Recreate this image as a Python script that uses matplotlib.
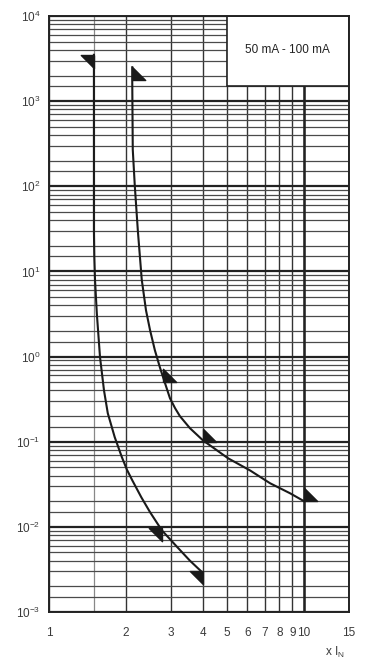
import numpy as np
import matplotlib
matplotlib.use("Agg")
import matplotlib.pyplot as plt
from matplotlib.patches import Rectangle

plt.rcParams['font.family'] = ['Liberation Sans', 'DejaVu Sans']
plt.rcParams['mathtext.default'] = 'regular'

## tripping curve 1 (lower), multiples of I_N vs time in s
curve1_x = [1.5, 1.5, 1.5, 1.5, 1.505, 1.515, 1.54, 1.585, 1.643, 1.70, 1.81, 1.93, 2.02,
            2.12, 2.30, 2.49, 2.77, 3.18, 3.57, 4.0]
curve1_t = [3500, 1000, 100, 30, 15, 7.9, 3.2, 0.98, 0.40, 0.216, 0.113, 0.066, 0.047,
            0.0353, 0.0223, 0.01486, 0.0091, 0.0058, 0.0040, 0.0029]

## tripping curve 2 (upper)
curve2_x = [2.12, 2.12, 2.13, 2.17, 2.23, 2.31, 2.40, 2.49, 2.60, 2.72, 2.85, 2.98, 3.12,
            3.26, 3.57, 4.01, 4.56, 5.03, 6.14, 7.36, 8.81, 10.0]
curve2_t = [2500, 1770, 270, 100, 30, 8.0, 3.5, 2.04, 1.19, 0.75, 0.487, 0.324, 0.248,
            0.1995, 0.144, 0.104, 0.079, 0.064, 0.046, 0.0325, 0.0248, 0.02]

## arrow heads on the curves
arrows1_x = [1.5, 2.77, 4.0]
arrows1_t = [3500, 0.0096, 0.003]
arrows2_x = [2.12, 2.80, 4.0, 10.0]
arrows2_t = [1770, 0.50, 0.1, 0.02]

xticks = [1, 2, 3, 4, 5, 6, 7, 8, 9, 10, 15]
yticks = [1e-3, 1e-2, 1e-1, 1e0, 1e1, 1e2, 1e3, 1e4]
ylabels = ['$10^{-3}$', '$10^{-2}$', '$10^{-1}$', '$10^{0}$', '$10^{1}$',
           '$10^{2}$', '$10^{3}$', '$10^{4}$']
range_label = "50 mA - 100 mA"

fig = plt.figure(figsize=(3.85, 6.68), dpi=100)
ax = fig.add_axes([49/385, 1-612/668, 300/385, 596/668])
ax.set_xscale('log')
ax.set_yscale('log')
ax.set_xlim(1, 15)
ax.set_ylim(1e-3, 1e4)

ax.set_xticks(xticks)
ax.set_xticklabels([str(v) for v in xticks])
ax.set_xticks([1.5], minor=True)
ax.set_yticks(yticks)
ax.set_yticklabels(ylabels)
yminor = [m * 10.0**k for k in range(-3, 4) for m in [1.5, 2, 3, 4, 5, 6, 7, 8, 9]]
ax.set_yticks(yminor, minor=True)
ax.set_yticklabels([], minor=True)
ax.set_xticklabels([], minor=True)
ax.tick_params(which='both', length=0, colors='#3a3a3a', labelsize=8.5)
ax.tick_params(axis='x', pad=11)
ax.tick_params(axis='y', pad=6)

ax.grid(True, axis='y', which='major', color='#222222', lw=1.6)
ax.grid(True, axis='y', which='minor', color='#4a4a4a', lw=0.9)
ax.grid(True, axis='x', which='major', color='#333333', lw=1.0)
ax.grid(True, axis='x', which='minor', color='#888888', lw=0.9)
ax.axvline(10, color='#222222', lw=1.8, zorder=1.5)
ax.set_axisbelow(True)

for s in ax.spines.values():
    s.set_linewidth(1.4)
    s.set_color('#222222')

## label box in the upper right
box = Rectangle((5, 1500), 10, 1e4 - 1500, facecolor='white', edgecolor='#222222',
                lw=1.2, zorder=2)
ax.add_patch(box)
ax.text(8.6, 4000, range_label, ha='center', va='center',
        fontsize=8.5, color='#222222', zorder=3)

ax.plot(curve1_x, curve1_t, color='#1a1a1a', lw=1.5, zorder=4)
ax.plot(curve2_x, curve2_t, color='#1a1a1a', lw=1.5, zorder=4)

m1 = [(0, 0), (-1, 0), (0, -1), (0, 0)]
m2 = [(0, 0), (0, 1), (1, 0), (0, 0)]
ax.plot(arrows1_x, arrows1_t, ls='none', marker=m1, ms=19, color='#1a1a1a', zorder=5)
ax.plot(arrows2_x, arrows2_t, ls='none', marker=m2, ms=19, color='#1a1a1a', zorder=5)

ax.text(0.985, -0.055, 'x I$_N$', transform=ax.transAxes, ha='right', va='top',
        fontsize=8.5, color='#3a3a3a')

fig.savefig('out.png', dpi=100)
